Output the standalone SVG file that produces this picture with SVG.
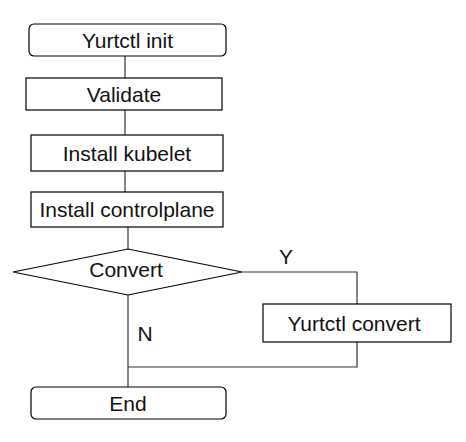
<svg xmlns="http://www.w3.org/2000/svg" width="466" height="442" viewBox="0 0 466 442">
<style>
.box{fill:#fff;stroke:#000;stroke-width:1.2}
.t{font-family:"Liberation Sans",Arial,sans-serif;font-size:21px;fill:#111;text-anchor:middle}
.c{fill:none;stroke:#333;stroke-width:1.2}
</style>
<rect width="466" height="442" fill="#fff"/>
<g id="connectors">
<line class="c" x1="125" y1="56" x2="125" y2="78"/>
<line class="c" x1="125" y1="110" x2="125" y2="135"/>
<line class="c" x1="125" y1="171" x2="125" y2="192"/>
<line class="c" x1="128" y1="227" x2="128" y2="249"/>
<polyline class="c" points="242,272 357,272 357,304"/>
<polyline class="c" points="357,342 357,367 128,367"/>
<line class="c" x1="128" y1="295" x2="128" y2="387"/>
<text class="t" x="286" y="264">Y</text>
<text class="t" x="145" y="341">N</text>
</g>
<g id="n-init"><rect class="box" x="29" y="24" width="197" height="32" rx="5"/><text class="t" x="127.5" y="47.5">Yurtctl init</text></g>
<g id="n-validate"><rect class="box" x="26" y="78" width="196" height="32"/><text class="t" x="124" y="101.5">Validate</text></g>
<g id="n-kubelet"><rect class="box" x="31" y="135" width="192" height="36"/><text class="t" x="127" y="160.5">Install kubelet</text></g>
<g id="n-controlplane"><rect class="box" x="31" y="192" width="192" height="35"/><text class="t" x="127" y="217">Install controlplane</text></g>
<g id="n-convert"><polygon class="box" points="13,272 128,249 242,272 128,295"/><text class="t" x="126" y="277">Convert</text></g>
<g id="n-yconvert"><rect class="box" x="263" y="304" width="188" height="38"/><text class="t" x="354" y="331">Yurtctl convert</text></g>
<g id="n-end"><rect class="box" x="31" y="387" width="195" height="32" rx="5"/><text class="t" x="128" y="410.5">End</text></g>
</svg>
